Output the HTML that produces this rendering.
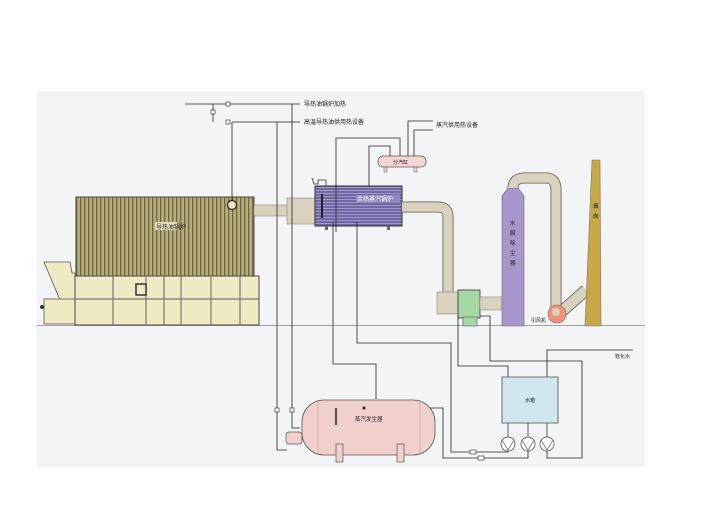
<!DOCTYPE html>
<html><head><meta charset="utf-8"><style>
html,body{margin:0;padding:0;background:#fff;}
svg{display:block;}
text{font-family:"Liberation Sans","Noto Sans CJK SC",sans-serif;font-size:6px;fill:#222;}
</style></head><body>
<svg width="720" height="529" viewBox="0 0 720 529" xmlns="http://www.w3.org/2000/svg">
<defs>
<pattern id="vs" width="4" height="10" patternUnits="userSpaceOnUse">
<rect width="4" height="10" fill="#b8ad7c"/><rect width="1.3" height="10" fill="#6e6640"/>
</pattern>
<pattern id="hs" width="10" height="3" patternUnits="userSpaceOnUse">
<rect width="10" height="3" fill="#6f6aa6"/><rect width="10" height="0.8" y="1" fill="#a8a4d0"/>
</pattern>
</defs>
<rect x="37" y="91" width="608" height="376" fill="#f3f4f6"/>
<!-- ground -->
<line x1="37" y1="325.5" x2="645" y2="325.5" stroke="#888" stroke-width="0.8"/>

<!-- main boiler -->
<polygon points="44,262 70,262 72,273 75,273 75,300 60,300" fill="#efeac4" stroke="#555" stroke-width="0.8"/>
<rect x="44" y="299" width="32" height="25" fill="#efeac4" stroke="#555" stroke-width="0.8"/>
<circle cx="42" cy="307" r="2" fill="#333"/>
<rect x="76" y="197" width="178" height="79" fill="url(#vs)" stroke="#444" stroke-width="1"/>
<rect x="75" y="276" width="184" height="49" fill="#efeac4" stroke="#444" stroke-width="1"/>
<g stroke="#777" stroke-width="1.2">
<line x1="75" y1="299" x2="259" y2="299"/>
<line x1="113" y1="276" x2="113" y2="325"/><line x1="146" y1="276" x2="146" y2="325"/>
<line x1="164" y1="276" x2="164" y2="325"/><line x1="181" y1="276" x2="181" y2="325"/>
<line x1="211" y1="276" x2="211" y2="325"/><line x1="240" y1="276" x2="240" y2="325"/>
</g>
<rect x="136" y="284" width="10" height="11" fill="#efeac4" stroke="#333" stroke-width="1.5"/>
<circle cx="232" cy="205" r="4.5" fill="#efeac4" stroke="#222" stroke-width="1.2"/>
<rect x="155" y="222" width="22" height="8" fill="#e8e2c0"/>
<text x="156" y="229">导热油锅炉</text>

<!-- duct to steam boiler -->
<rect x="254" y="205" width="34" height="11" fill="#d8d2bf" stroke="#777" stroke-width="0.5"/>
<rect x="287" y="198" width="28" height="26" fill="#d8d2bf" stroke="#777" stroke-width="0.5"/>
<!-- steam boiler -->
<rect x="315" y="186" width="87" height="40" fill="url(#hs)" stroke="#333" stroke-width="1"/>
<rect x="356" y="195" width="44" height="8" fill="#8f8bbf"/>
<text x="357" y="201" style="fill:#fff">余热蒸汽锅炉</text>
<line x1="322" y1="194" x2="322" y2="218" stroke="#222" stroke-width="2"/>
<rect x="325" y="226" width="3" height="4" fill="#666"/><rect x="387" y="226" width="3" height="4" fill="#666"/>
<polyline points="312,178 314,184 318,184 318,180 326,180 326,186" fill="none" stroke="#333" stroke-width="0.8"/>

<!-- flue pipe from steam boiler -->
<path d="M402 207 H438 Q448 207 448 217 V294" fill="none" stroke="#5d5a50" stroke-width="11"/>
<path d="M402 207 H438 Q448 207 448 217 V294" fill="none" stroke="#d8d2bf" stroke-width="9.4"/>
<rect x="437" y="292" width="22" height="22" fill="#d8d2bf" stroke="#777" stroke-width="0.5"/>
<rect x="458" y="290" width="22" height="28" fill="#a6d8a4" stroke="#333" stroke-width="0.8"/>
<rect x="463" y="317" width="14" height="9" fill="#a6d8a4" stroke="#555" stroke-width="0.6"/>
<rect x="480" y="297" width="22" height="13" fill="#d8d2bf" stroke="#777" stroke-width="0.5"/>
<!-- tower -->
<polygon points="508,188 518,188 524,196 524,326 502,326 502,196" fill="#a896cc" stroke="#666" stroke-width="0.6"/>
<text x="510" y="225" style="font-size:5.5px">水</text><text x="510" y="235" style="font-size:5.5px">膜</text>
<text x="510" y="245" style="font-size:5.5px">除</text><text x="510" y="255" style="font-size:5.5px">尘</text>
<text x="510" y="265" style="font-size:5.5px">器</text>
<!-- elbow to fan -->
<path d="M513 188 V188 Q513 178 525 178 H546 Q556 178 556 190 V310" fill="none" stroke="#5d5a50" stroke-width="11"/>
<path d="M513 188 V188 Q513 178 525 178 H546 Q556 178 556 190 V310" fill="none" stroke="#d8d2bf" stroke-width="9.4"/>
<path d="M560 313 L586 290" stroke="#5d5a50" stroke-width="12"/>
<path d="M560 313 L586 290" stroke="#d8d2bf" stroke-width="10.4"/>
<circle cx="557" cy="314" r="9" fill="#f0917e" stroke="#a55" stroke-width="0.6"/>
<circle cx="556" cy="312" r="4" fill="#d8d2bf"/>
<text x="531" y="322" style="font-size:5px">引风机</text>
<!-- chimney -->
<polygon points="592,160 600,160 601,326 585,326" fill="#c9a84a" stroke="#776" stroke-width="0.6"/>
<text x="593" y="208" style="font-size:5.5px">烟</text><text x="593" y="218" style="font-size:5.5px">囱</text>

<!-- distributor -->
<rect x="378" y="156" width="48" height="11" rx="5" fill="#f3d6d2" stroke="#555" stroke-width="0.7"/>
<rect x="384" y="167" width="3" height="5" fill="#f3d6d2" stroke="#555" stroke-width="0.5"/>
<rect x="414" y="167" width="3" height="5" fill="#f3d6d2" stroke="#555" stroke-width="0.5"/>
<text x="393" y="164" style="font-size:5px">分汽缸</text>

<!-- pipes -->
<g fill="none" stroke="#222" stroke-width="0.8">
<line x1="185" y1="104" x2="300" y2="104"/>
<line x1="213" y1="104" x2="213" y2="122"/>
<line x1="232" y1="122" x2="300" y2="122"/>
<line x1="232" y1="122" x2="232" y2="200"/>
<line x1="292" y1="104" x2="292" y2="420"/>
<line x1="277" y1="122" x2="277" y2="430"/>
<polyline points="277,430 277,450 287,450"/>
<polyline points="292,420 292,428 300,428"/>
<polyline points="336,232 336,138 400,138 400,156"/>
<polyline points="369,186 369,146 390,146 390,156"/>
<polyline points="408,156 408,121 433,121"/>
<polyline points="414,156 414,130 433,130"/>
<polyline points="333,222 333,364 376,364 376,399"/>
<polyline points="357,222 357,343 451,343 451,452 508,452 508,451"/>
<polyline points="364,408 443,408 443,458 528,458 528,451"/>
<polyline points="458,315 458,366 508,366 508,377"/>
<polyline points="480,316 490,316 490,361 582,361 582,458 547,458 547,451"/>
<polyline points="547,377 547,350 633,350"/>
</g>
<text x="304" y="106">导热油锅炉加热</text>
<text x="304" y="124">高温导热油供用热设备</text>
<text x="436" y="127">蒸汽供用热设备</text>
<text x="615" y="358" style="font-size:5px">软化水</text>
<!-- valves -->
<g fill="#fff" stroke="#222" stroke-width="0.6">
<rect x="226" y="102" width="4" height="4"/><rect x="226" y="120" width="4" height="4"/>
<rect x="211" y="110" width="4" height="4"/>
<rect x="275" y="408" width="4" height="4"/><rect x="290" y="408" width="4" height="4"/>
<rect x="470" y="450" width="6" height="4"/><rect x="478" y="456" width="6" height="4"/>
</g>

<!-- steam generator tank -->
<rect x="302" y="400" width="133" height="55" rx="22" fill="#f1d0cc" stroke="#555" stroke-width="0.8"/>
<line x1="318" y1="401" x2="318" y2="454" stroke="#b99" stroke-width="0.6"/>
<line x1="420" y1="401" x2="420" y2="454" stroke="#b99" stroke-width="0.6"/>
<rect x="336" y="444" width="7" height="18" fill="#f1d0cc" stroke="#555" stroke-width="0.7"/>
<rect x="397" y="444" width="7" height="18" fill="#f1d0cc" stroke="#555" stroke-width="0.7"/>
<rect x="286" y="432" width="16" height="12" rx="3" fill="#f1d0cc" stroke="#555" stroke-width="0.7"/>
<line x1="336" y1="408" x2="336" y2="425" stroke="#222" stroke-width="1.5"/>
<circle cx="364" cy="408" r="1.5" fill="#222"/>
<text x="355" y="421" style="font-size:5.5px">蒸汽发生器</text>

<!-- water tank -->
<rect x="502" y="377" width="56" height="46" fill="#cfe6ee" stroke="#555" stroke-width="0.8"/>
<text x="525" y="402" style="font-size:5px">水箱</text>
<g stroke="#222" stroke-width="0.7" fill="none">
<line x1="508" y1="423" x2="508" y2="437"/><line x1="528" y1="423" x2="528" y2="437"/><line x1="547" y1="423" x2="547" y2="437"/>
</g>
<g fill="#fff" stroke="#444" stroke-width="0.7">
<circle cx="508" cy="444" r="7"/><circle cx="528" cy="444" r="7"/><circle cx="547" cy="444" r="7"/>
</g>
<g fill="none" stroke="#444" stroke-width="0.6">
<polyline points="502,440 508,450 514,440"/><polyline points="522,440 528,450 534,440"/><polyline points="541,440 547,450 553,440"/>
</g>
</svg>
</body></html>
